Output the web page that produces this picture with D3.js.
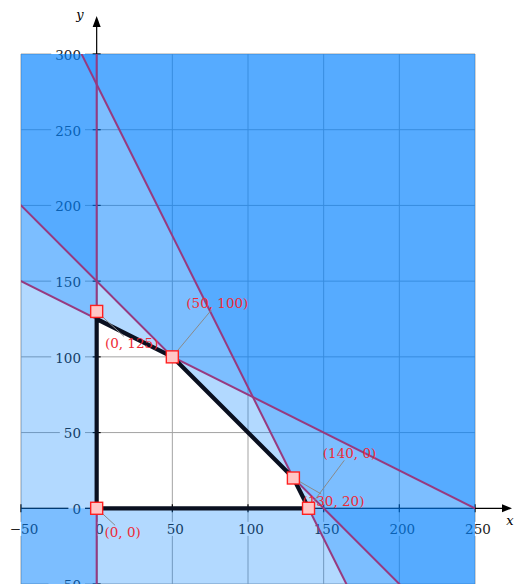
<!DOCTYPE html>
<html lang="en">
<head>
<meta charset="UTF-8" />
<script src="https://d3js.org/d3.v7.min.js"></script>
<style>
  body { margin: 0; background: #fff; }
  text { font-family: "DejaVu Serif", serif; }
</style>
</head>
<body>
<svg width="514" height="584"></svg>
<script>
// axis ranges and ticks
var xDomain = [-50, 250];
var yDomain = [-50, 300];
var xTicks = [-50, 0, 50, 100, 150, 200, 250];
var yTicks = [-50, 0, 50, 100, 150, 200, 250, 300];

// constraints a*x + b*y <= c
var coefA = [-1, 0, 1, 1, 2];
var coefB = [0, -1, 2, 1, 1];
var coefC = [0, 0, 250, 150, 280];
var showLine = [true, false, true, true, true];

// corner points of the feasible region
var vertexX = [0, 140, 130, 50, 0];
var vertexY = [0, 0, 20, 100, 125];
// marked points (the top one sits a bit above the corner in the picture)
var markerX = [0, 140, 130, 50, 0];
var markerY = [0, 0, 20, 100, 130];
var vertexLabel = ["(0, 0)", "(140, 0)", "(130, 20)", "(50, 100)", "(0, 125)"];

var svg = d3.select("svg");
var x = d3.scaleLinear().domain(xDomain).range([21, 475]);
var y = d3.scaleLinear().domain(yDomain).range([584, 54]);

svg.append("clipPath").attr("id", "plotclip")
  .append("rect")
  .attr("x", x(xDomain[0])).attr("y", y(yDomain[1]))
  .attr("width", x(xDomain[1]) - x(xDomain[0]))
  .attr("height", y(yDomain[0]) - y(yDomain[1]));

////////// grid
var grid = svg.append("g").attr("stroke", "#a3a3a3").attr("stroke-width", 1);
xTicks.forEach(function(t) {
  grid.append("line").attr("x1", x(t)).attr("x2", x(t))
    .attr("y1", y(yDomain[0])).attr("y2", y(yDomain[1]));
});
yTicks.forEach(function(t) {
  grid.append("line").attr("y1", y(t)).attr("y2", y(t))
    .attr("x1", x(xDomain[0])).attr("x2", x(xDomain[1]));
});

////////// axes with arrows
var axes = svg.append("g").attr("stroke", "#000").attr("stroke-width", 1.2);
axes.append("line").attr("x1", x(xDomain[0])).attr("x2", 504).attr("y1", y(0)).attr("y2", y(0));
axes.append("line").attr("x1", x(0)).attr("x2", x(0)).attr("y1", y(yDomain[0])).attr("y2", 26);
svg.append("path").attr("d", d3.line()([[512, y(0)], [502, y(0) - 4], [502, y(0) + 4]])).attr("fill", "#000");
svg.append("path").attr("d", d3.line()([[x(0), 16], [x(0) - 4, 27], [x(0) + 4, 27]])).attr("fill", "#000");
xTicks.forEach(function(t) {
  axes.append("line").attr("x1", x(t)).attr("x2", x(t)).attr("y1", y(0) - 4).attr("y2", y(0) + 4);
});
yTicks.forEach(function(t) {
  axes.append("line").attr("y1", y(t)).attr("y2", y(t)).attr("x1", x(0) - 4).attr("x2", x(0) + 4);
});
svg.append("text").attr("x", 80).attr("y", 19).attr("font-size", 13)
  .attr("font-style", "italic").attr("text-anchor", "middle").text("y");
svg.append("text").attr("x", 510).attr("y", 525).attr("font-size", 13)
  .attr("font-style", "italic").attr("text-anchor", "middle").text("x");

////////// tick labels with white boxes
function tickLabel(px, py, str, anchor) {
  var g = svg.append("g");
  var t = g.append("text").attr("x", px).attr("y", py).attr("font-size", 13.5)
    .attr("fill", "#222").attr("text-anchor", anchor).attr("dy", "0.36em")
    .text(str);
  var bb = t.node().getBBox();
  g.insert("rect", "text").attr("x", bb.x - 4).attr("y", bb.y + 1)
    .attr("width", bb.width + 8).attr("height", bb.height - 2).attr("fill", "#fff");
}
xTicks.forEach(function(t) {
  tickLabel(x(t) + 3, 529, t < 0 ? "\u2212" + Math.abs(t) : String(t), "middle");
});
yTicks.forEach(function(t) {
  tickLabel(81, y(t) + 1, t < 0 ? "\u2212" + Math.abs(t) : String(t), "end");
});

////////// shading of each violated half-plane
function clipHalf(poly, a, b, c) {
  // keep points with a*x + b*y >= c
  var out = [];
  for (var i = 0; i < poly.length; i++) {
    var p = poly[i], q = poly[(i + 1) % poly.length];
    var fp = a * p[0] + b * p[1] - c, fq = a * q[0] + b * q[1] - c;
    if (fp >= 0) out.push(p);
    if ((fp >= 0) != (fq >= 0)) {
      var t = fp / (fp - fq);
      out.push([p[0] + t * (q[0] - p[0]), p[1] + t * (q[1] - p[1])]);
    }
  }
  return out;
}
var box = [[xDomain[0], yDomain[0]], [xDomain[1], yDomain[0]], [xDomain[1], yDomain[1]], [xDomain[0], yDomain[1]]];
var shade = svg.append("g");
for (var k = 0; k < coefA.length; k++) {
  var poly = clipHalf(box, coefA[k], coefB[k], coefC[k]);
  shade.append("path")
    .attr("d", d3.line().x(function(d) { return x(d[0]); }).y(function(d) { return y(d[1]); })(poly) + "Z")
    .attr("fill", "#0080ff").attr("fill-opacity", 0.3);
}

////////// constraint lines
var lines = svg.append("g").attr("clip-path", "url(#plotclip)")
  .attr("stroke", "#973a80").attr("stroke-width", 2);
for (var k = 0; k < coefA.length; k++) {
  if (!showLine[k]) continue;
  var a = coefA[k], b = coefB[k], c = coefC[k];
  if (b == 0) {
    lines.append("line").attr("x1", x(c / a)).attr("x2", x(c / a))
      .attr("y1", y(yDomain[0])).attr("y2", y(yDomain[1]));
  } else {
    var xa = -100, xb = 400;
    lines.append("line").attr("x1", x(xa)).attr("y1", y((c - a * xa) / b))
      .attr("x2", x(xb)).attr("y2", y((c - a * xb) / b));
  }
}

////////// feasible region border
var pts = vertexX.map(function(v, i) { return [x(v), y(vertexY[i])]; });
svg.append("path").attr("d", d3.line()(pts) + "Z")
  .attr("fill", "none").attr("stroke", "#0a1020").attr("stroke-width", 4.2)
  .attr("stroke-linejoin", "round");

////////// pins, markers and labels
var marks = markerX.map(function(v, i) { return [x(v), y(markerY[i])]; });
var offsets = [[26, 24], [41, -55], [40, 23], [45, -54], [35, 32]];
var labelG = svg.append("g");
var pinG = svg.append("g");
var markG = svg.append("g");
marks.forEach(function(p, i) {
  var lx = p[0] + offsets[i][0], ly = p[1] + offsets[i][1];
  var t = labelG.append("text").attr("x", lx).attr("y", ly).attr("dy", "0.36em")
    .attr("text-anchor", "middle").attr("font-size", 13.5).attr("fill", "#ee2a36")
    .text(vertexLabel[i]);
  var bb = t.node().getBBox();
  var dx = offsets[i][0], dy = offsets[i][1];
  var t1 = 1 - Math.min((bb.width / 2 + 1) / Math.abs(dx), (bb.height / 2 - 1) / Math.abs(dy));
  var t0 = Math.min(6 / Math.abs(dx), 6 / Math.abs(dy));
  pinG.append("line")
    .attr("x1", p[0] + t0 * dx).attr("y1", p[1] + t0 * dy)
    .attr("x2", p[0] + t1 * dx).attr("y2", p[1] + t1 * dy)
    .attr("stroke", "#8a8a8a").attr("stroke-width", 1);
  markG.append("rect").attr("x", p[0] - 6).attr("y", p[1] - 6)
    .attr("width", 12).attr("height", 12)
    .attr("fill", "#ffc6c6").attr("stroke", "#ff2020").attr("stroke-width", 1.4);
});
</script>
</body>
</html>
